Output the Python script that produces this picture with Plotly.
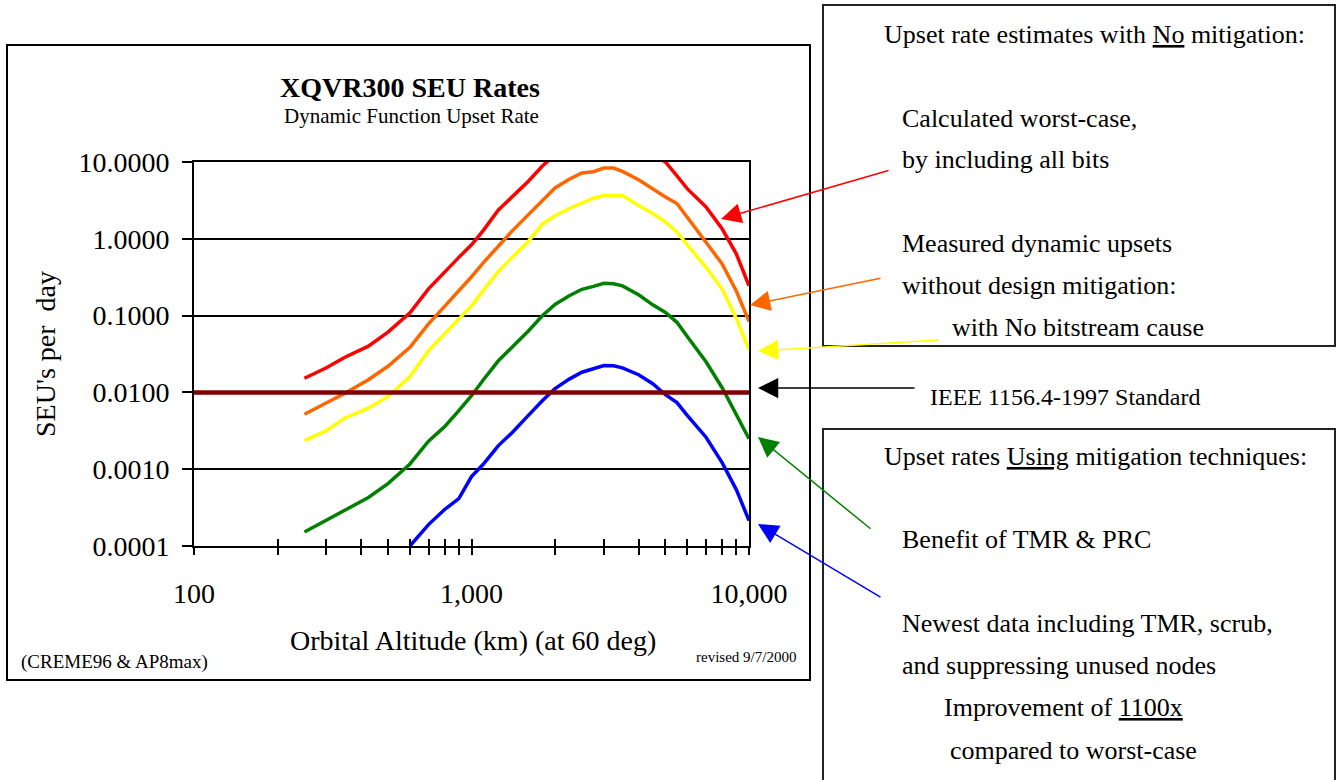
import plotly.graph_objects as go

# ---------------- data ----------------
altitude_km = [250, 300, 350, 425, 500, 600, 700, 800, 900, 1000, 1100, 1250, 1400, 1600, 1800,
               2000, 2250, 2500, 2750, 3000, 3250, 3500, 4000, 4500, 5000, 5500, 6000, 7000,
               8000, 9000, 10000]

worst_case = [0.0153, 0.0209, 0.0287, 0.040, 0.061, 0.109, 0.223, 0.372, 0.573, 0.834, 1.27,
              2.38, 3.51, 5.57, 8.87, 12.5, 16.0, 19.5, 21.0, 23.0, 22.5, 20.5, 16.0, 12.5,
              10.0, 6.58, 4.46, 2.60, 1.35, 0.637, 0.244]

measured_dynamic = [0.0052, 0.00724, 0.00977, 0.0146, 0.0219, 0.0386, 0.078, 0.132, 0.210, 0.32,
                    0.483, 0.81, 1.26, 2.05, 3.14, 4.59, 5.96, 7.2, 7.48, 8.34, 8.34, 7.55, 5.87,
                    4.42, 3.51, 2.88, 1.87, 0.90, 0.472, 0.209, 0.084]

no_bitstream = [0.00236, 0.00318, 0.00465, 0.00624, 0.0088, 0.0161, 0.035, 0.058, 0.0908, 0.134,
                0.21, 0.377, 0.57, 0.92, 1.55, 2.0, 2.48, 2.95, 3.38, 3.65, 3.65, 3.65, 2.72,
                2.13, 1.66, 1.23, 0.83, 0.426, 0.223, 0.092, 0.0359]

tmr_prc = [0.000152, 0.000218, 0.00029, 0.000428, 0.00065, 0.00117, 0.00232, 0.00358, 0.00578,
           0.00906, 0.0144, 0.0258, 0.0387, 0.0625, 0.0994, 0.140, 0.181, 0.220, 0.240, 0.263,
           0.259, 0.244, 0.187, 0.138, 0.110, 0.0818, 0.053, 0.0251, 0.0115, 0.00513, 0.0025]

newest_altitude_km = [600, 700, 800, 900, 1000, 1100, 1250, 1400, 1600, 1800, 2000, 2250, 2500,
                      2750, 3000, 3250, 3500, 4000, 4500, 5000, 5500, 6000, 7000, 8000, 9000, 10000]
newest_tmr_scrub = [0.0001, 0.00019, 0.000299, 0.000415, 0.000802, 0.00115, 0.00203, 0.00299,
                    0.00498, 0.0078, 0.0112, 0.0149, 0.0183, 0.0202, 0.0224, 0.0222, 0.0209,
                    0.0170, 0.0130, 0.00933, 0.00735, 0.00498, 0.00261, 0.00122, 0.000543, 0.000215]

ieee_altitude_km = [100, 10000]
ieee_standard = [0.01, 0.01]

y_tick_vals = [0.0001, 0.001, 0.01, 0.1, 1, 10]
y_tick_text = ["0.0001", "0.0010", "0.0100", "0.1000", "1.0000", "10.0000"]
x_tick_vals = [100, 200, 300, 400, 500, 600, 700, 800, 900, 1000,
               2000, 3000, 4000, 5000, 6000, 7000, 8000, 9000, 10000]
x_tick_text = ["100", "", "", "", "", "", "", "", "", "1,000",
               "", "", "", "", "", "", "", "", "10,000"]

# ---------------- layout helpers ----------------
W, H = 1339, 780
PLOT_L, PLOT_R, PLOT_T, PLOT_B = 194, 749, 162, 546      # page coordinates
L, R, T, B = PLOT_L, W - PLOT_R, PLOT_T, H - PLOT_B
PW, PH = W - L - R, H - T - B
SERIF = "Liberation Serif, Times New Roman, serif"


def fx(xpage):
    return (xpage - PLOT_L) / PW


def fy(ypage):
    return (PLOT_B - ypage) / PH


fig = go.Figure()

series = [
    (altitude_km, worst_case, "#FF0000", "Calculated worst-case"),
    (altitude_km, measured_dynamic, "#FF6600", "Measured dynamic upsets"),
    (altitude_km, no_bitstream, "#FFFF00", "No bitstream cause"),
    (altitude_km, tmr_prc, "#008000", "TMR & PRC"),
    (newest_altitude_km, newest_tmr_scrub, "#0000FF", "Newest data"),
]
for xs, ys, col, name in series:
    fig.add_trace(go.Scatter(x=xs, y=ys, mode="lines", name=name,
                             line=dict(color=col, width=3.5), hoverinfo="skip"))

fig.add_trace(go.Scatter(x=ieee_altitude_km, y=ieee_standard, mode="lines",
                         name="IEEE 1156.4-1997 Standard", xaxis="x2",
                         line=dict(color="#800000", width=4.5), hoverinfo="skip"))

axis_font = dict(family=SERIF, size=28, color="black")

fig.update_layout(
    width=W, height=H,
    margin=dict(l=L, r=R, t=T, b=B, pad=0),
    paper_bgcolor="white", plot_bgcolor="white",
    showlegend=False,
    font=dict(family=SERIF, color="black"),
    xaxis=dict(type="log", range=[2, 4], showgrid=False, zeroline=False,
               showline=True, linecolor="black", linewidth=2, mirror=True,
               ticks="outside", ticklen=7, tickwidth=1.5, tickcolor="black",
               tickvals=x_tick_vals, ticktext=x_tick_text, tickfont=axis_font,
               ticklabelstandoff=14),
    xaxis2=dict(type="log", range=[2, 4], overlaying="x", anchor="y", side="bottom",
                showgrid=False, zeroline=False, showline=False,
                ticks="inside", ticklen=7, tickwidth=1.5, tickcolor="black",
                tickvals=x_tick_vals, showticklabels=False),
    yaxis=dict(type="log", range=[-4, 1], showgrid=True, gridcolor="black", gridwidth=1.5,
               zeroline=False, showline=True, linecolor="black", linewidth=2, mirror=True,
               ticks="outside", ticklen=10, tickwidth=1.5, tickcolor="black",
               tickvals=y_tick_vals, ticktext=y_tick_text, tickfont=axis_font,
               ticklabelstandoff=7),
)

shapes = [
    dict(type="rect", xref="paper", yref="paper", x0=fx(7), x1=fx(810), y0=fy(680), y1=fy(45),
         line=dict(color="black", width=2), layer="below"),
    dict(type="rect", xref="paper", yref="paper", x0=fx(823), x1=fx(1335), y0=fy(346), y1=fy(5),
         line=dict(color="#222222", width=2)),
    dict(type="rect", xref="paper", yref="paper", x0=fx(823), x1=fx(1335), y0=fy(800), y1=fy(429),
         line=dict(color="#222222", width=2)),
]
fig.update_layout(shapes=shapes)

annotations = []


def txt(text, x, y, size, xanchor="left", bold=False, angle=0):
    t = f"<b>{text}</b>" if bold else text
    annotations.append(dict(text=t, x=fx(x), y=fy(y), xref="paper", yref="paper",
                            xanchor=xanchor, yanchor="middle", showarrow=False,
                            textangle=angle,
                            font=dict(family=SERIF, size=size, color="black")))


txt("XQVR300 SEU Rates", 410, 87, 28, xanchor="center", bold=True)
txt("Dynamic Function Upset Rate", 411, 116, 21, xanchor="center")
txt("SEU's per\u00a0 day", 45, 354, 28, xanchor="center", angle=-90)
txt("Orbital Altitude (km) (at 60 deg)", 473, 640, 28, xanchor="center")
txt("(CREME96 &amp; AP8max)", 19, 662, 19)
txt("revised 9/7/2000", 694, 657, 15)

txt("Upset rate estimates with <u>No</u> mitigation:", 882, 34, 26)
txt("Calculated worst-case,", 900, 118, 26)
txt("by including all bits", 900, 159, 26)
txt("Measured dynamic upsets", 900, 243, 26)
txt("without design mitigation:", 900, 285, 26)
txt("with No bitstream cause", 950, 327, 26)
txt("IEEE 1156.4-1997 Standard", 928, 397, 24)
txt("Upset rates <u>Using</u> mitigation techniques:", 882, 456, 26)
txt("Benefit of TMR &amp; PRC", 900, 539, 26)
txt("Newest data including TMR, scrub,", 900, 623, 26)
txt("and suppressing unused nodes", 900, 665, 26)
txt("Improvement of <u>1100x</u>", 942, 707, 26)
txt("compared to worst-case", 948, 750, 26)

arrows = [
    ((721, 219), (890, 170), "#FF0000"),
    ((750, 305), (882, 278), "#FF6600"),
    ((758, 351), (940, 340), "#FFFF00"),
    ((758, 388), (916, 388), "#000000"),
    ((758, 437), (872, 530), "#008000"),
    ((758, 524), (882, 598), "#0000FF"),
]
for (tx, ty), (sx, sy), col in arrows:
    annotations.append(dict(text="", x=fx(tx), y=fy(ty), xref="paper", yref="paper",
                            ax=sx - tx, ay=sy - ty, axref="pixel", ayref="pixel",
                            showarrow=True, arrowhead=2, arrowsize=2.7, arrowwidth=1.5,
                            arrowcolor=col))

fig.update_layout(annotations=annotations)

# remove the default 8 px body margin so the 1339x780 figure fills the window exactly
page_fix = "document.body.style.margin='0px'; document.body.style.overflow='hidden';"

fig.write_html("out.html", config={"displayModeBar": False}, post_script=page_fix)
